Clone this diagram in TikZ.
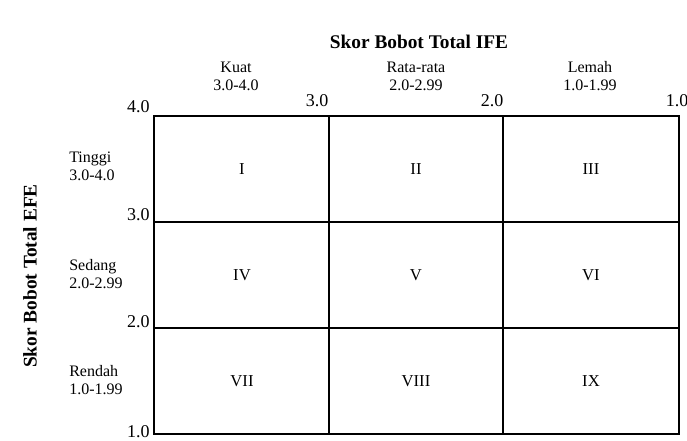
\documentclass[tikz,border=0pt]{standalone}
\usepackage{fontspec}
\setmainfont{Liberation Serif}
\begin{document}
\begin{tikzpicture}[x=0.75pt,y=-0.75pt,
  small/.style={font=\fontsize{12}{14}\selectfont, inner sep=0pt},
  tick/.style={font=\fontsize{13.5}{16}\selectfont, inner sep=0pt},
  roman/.style={font=\fontsize{12.5}{15}\selectfont},
  title/.style={font=\fontsize{14.5}{17}\selectfont\bfseries},
  grid/.style={line width=1.2pt}]
\useasboundingbox (0,0) rectangle (687,441);
% grid
\draw[grid] (154,116) rectangle (679,434);
\draw[line width=1pt] (329,116) -- (329,434);
\draw[line width=1pt] (503,116) -- (503,434);
\draw[line width=1pt] (154,222) -- (679,222);
\draw[line width=1pt] (154,328) -- (679,328);
% titles
\node[title] (ttop) at (419,42) {Skor Bobot Total IFE};
\node[title, rotate=90] (tleft) at (30,276) {Skor Bobot Total EFE};
% column labels
\node[small, align=center, anchor=base] (kuat) at (236,91) {Kuat\\3.0-4.0};
\node[small, align=center, anchor=base] (rata) at (416,91) {Rata-rata\\2.0-2.99};
\node[small, align=center, anchor=base] (lemah) at (590,91) {Lemah\\1.0-1.99};
% top ticks
\node[tick, anchor=base] (t3) at (317,107) {3.0};
\node[tick, anchor=base] (t2) at (492,107) {2.0};
\node[tick, anchor=base] (t1) at (677,107) {1.0};
% left ticks
\node[tick, anchor=base east] (l4) at (150,113) {4.0};
\node[tick, anchor=base east] (l3) at (150,221) {3.0};
\node[tick, anchor=base east] (l2) at (150,328) {2.0};
\node[tick, anchor=base east] (l1) at (150,438) {1.0};
% row labels
\node[small, align=left, anchor=base west] (tinggi) at (69,181) {Tinggi\\3.0-4.0};
\node[small, align=left, anchor=base west] (sedang) at (69,289) {Sedang\\2.0-2.99};
\node[small, align=left, anchor=base west] (rendah) at (69,395) {Rendah\\1.0-1.99};
% cells
\node[roman] (c1) at (242,169) {I};
\node[roman] (c2) at (416,169) {II};
\node[roman] (c3) at (591,169) {III};
\node[roman] (c4) at (242,275) {IV};
\node[roman] (c5) at (416,275) {V};
\node[roman] (c6) at (591,275) {VI};
\node[roman] (c7) at (242,381) {VII};
\node[roman] (c8) at (416,381) {VIII};
\node[roman] (c9) at (591,381) {IX};
\end{tikzpicture}
\end{document}
